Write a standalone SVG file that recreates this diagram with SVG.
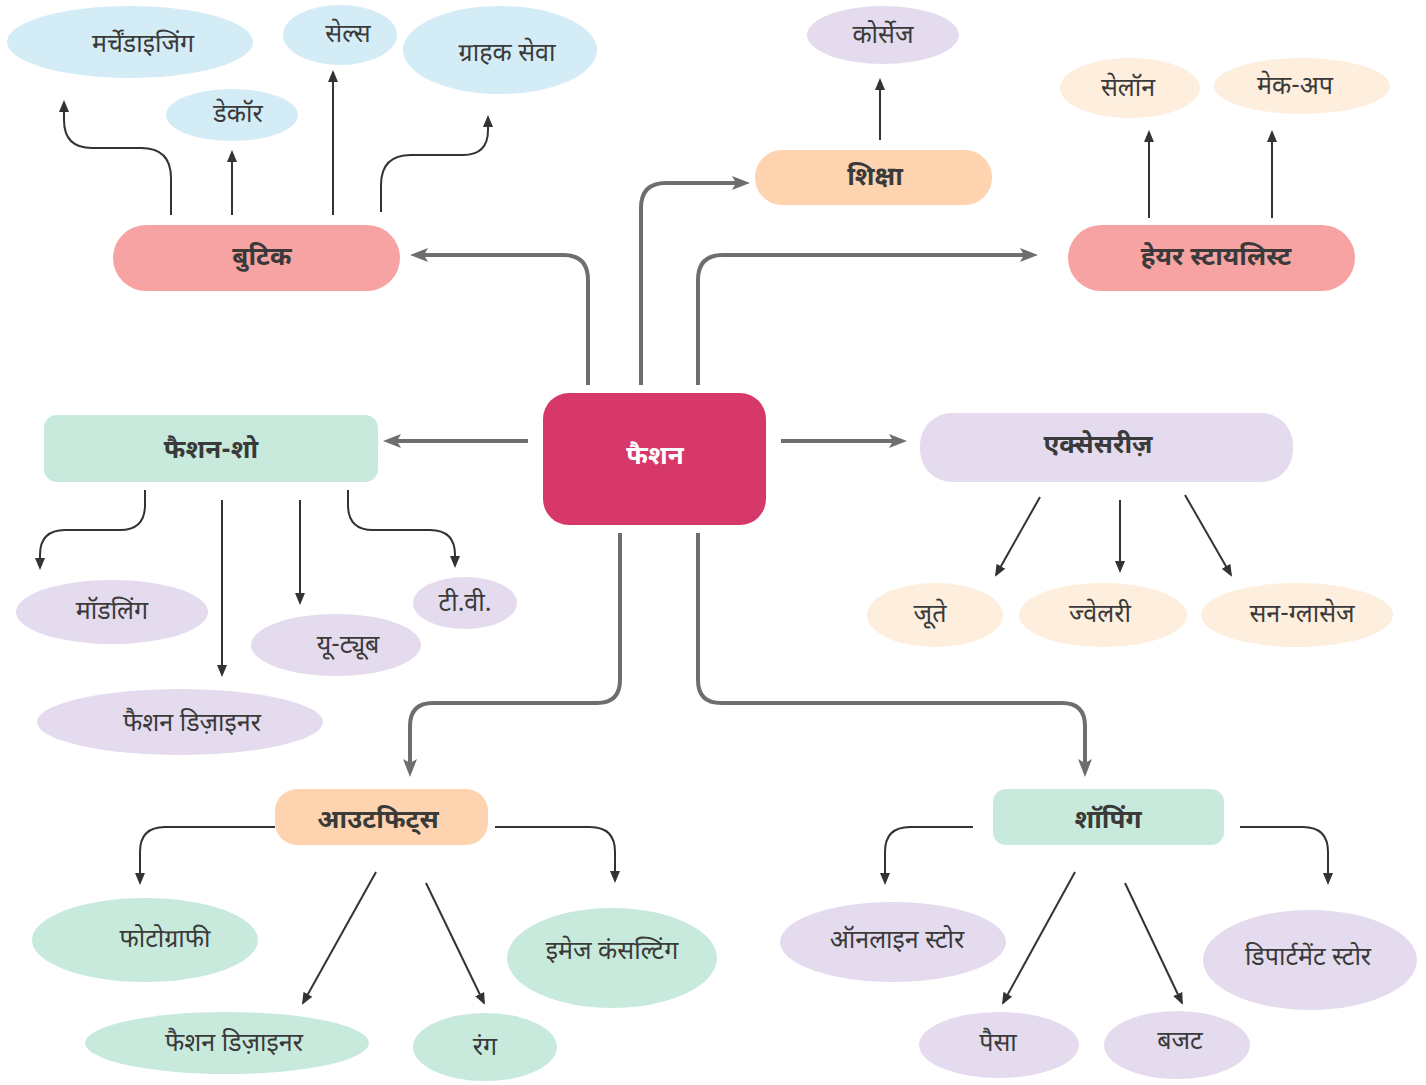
<svg xmlns="http://www.w3.org/2000/svg" width="1426" height="1085" viewBox="0 0 1426 1085">
<defs>
<style>
text{font-family:"Noto Sans Devanagari","Noto Sans","DejaVu Sans",sans-serif;fill:#3a3a3a;text-anchor:middle;dominant-baseline:central}
.lf{font-size:25px}
.nd{font-size:26px;font-weight:bold}
.main{fill:none;stroke:#6e6e6e;stroke-width:4;marker-end:url(#ah)}
.thin{fill:none;stroke:#333;stroke-width:2;marker-end:url(#at)}
.blue{fill:#d3ecf6}.lav{fill:#e4dbee}.pch{fill:#fdeedd}.mint{fill:#c8eadc}
.salmon{fill:#f7a3a3}.peach{fill:#fdd3b0}
</style>
<marker id="ah" markerUnits="userSpaceOnUse" markerWidth="18" markerHeight="14" refX="13" refY="7" orient="auto"><path d="M0,0 L18,7 L0,14 L4,7 z" fill="#6e6e6e"/></marker>
<marker id="at" markerUnits="userSpaceOnUse" markerWidth="12" markerHeight="10" refX="10" refY="5" orient="auto"><path d="M0,0 L12,5 L0,10 z" fill="#333"/></marker>
</defs>
<rect width="1426" height="1085" fill="#fff"/>
<g id="connectors">
<path class="main" d="M588,385 V280 Q588,255 563,255 H415"/>
<path class="main" d="M641,385 V208 Q641,183 666,183 H745"/>
<path class="main" d="M698,385 V280 Q698,255 723,255 H1033"/>
<path class="main" d="M528,441 H388"/>
<path class="main" d="M781,441 H902"/>
<path class="main" d="M620,533 V680 Q620,703 597,703 H433 Q410,703 410,726 V772"/>
<path class="main" d="M698,533 V680 Q698,703 721,703 H1062 Q1085,703 1085,726 V772"/>
<path class="thin" d="M171,215 V178 Q171,148 141,148 H92 Q64,148 64,120 V102"/>
<path class="thin" d="M232,215 V152"/>
<path class="thin" d="M333,215 V72"/>
<path class="thin" d="M381,212 V185 Q381,155 411,155 H463 Q488,155 488,130 V117"/>
<path class="thin" d="M880,140 V80"/>
<path class="thin" d="M1149,218 V132"/>
<path class="thin" d="M1272,218 V132"/>
<path class="thin" d="M145,490 V505 Q145,530 120,530 H65 Q40,530 40,555 V568"/>
<path class="thin" d="M222,500 V675"/>
<path class="thin" d="M300,500 V603"/>
<path class="thin" d="M348,490 V505 Q348,530 373,530 H430 Q455,530 455,555 V566"/>
<path class="thin" d="M1040,497 L996,575"/>
<path class="thin" d="M1120,500 V571"/>
<path class="thin" d="M1185,495 L1231,575"/>
<path class="thin" d="M275,827 H165 Q140,827 140,852 V883"/>
<path class="thin" d="M495,827 H590 Q615,827 615,852 V881"/>
<path class="thin" d="M376,872 L303,1003"/>
<path class="thin" d="M426,883 L484,1003"/>
<path class="thin" d="M973,827 H910 Q885,827 885,852 V883"/>
<path class="thin" d="M1240,827 H1303 Q1328,827 1328,852 V883"/>
<path class="thin" d="M1075,872 L1003,1003"/>
<path class="thin" d="M1125,883 L1182,1003"/>
</g>
<g id="fashion"><rect x="543" y="393" width="223" height="132" rx="26" fill="#d6386a"/><text x="655" y="458" class="nd" style="fill:#fff">फैशन</text></g>
<g id="boutique"><rect x="113" y="225" width="287" height="66" rx="33" class="salmon"/><text x="262" y="259" class="nd">बुटिक</text></g>
<g id="shiksha"><rect x="755" y="150" width="237" height="55" rx="27" class="peach"/><text x="875" y="179" class="nd">शिक्षा</text></g>
<g id="hairstylist"><rect x="1068" y="225" width="287" height="66" rx="33" class="salmon"/><text x="1216" y="259" class="nd">हेयर स्टायलिस्ट</text></g>
<g id="fashionshow"><rect x="44" y="415" width="334" height="67" rx="13" class="mint"/><text x="211" y="452" class="nd">फैशन-शो</text></g>
<g id="accessories"><rect x="920" y="413" width="373" height="69" rx="32" class="lav"/><text x="1098" y="447" class="nd">एक्सेसरीज़</text></g>
<g id="outfits"><rect x="275" y="789" width="213" height="56" rx="22" class="peach"/><text x="378" y="822" class="nd">आउटफिट्स</text></g>
<g id="shopping"><rect x="993" y="789" width="231" height="56" rx="13" class="mint"/><text x="1108" y="822" class="nd">शॉपिंग</text></g>
<g id="merch"><ellipse cx="130" cy="42" rx="123" ry="36" class="blue"/><text x="143" y="46" class="lf">मर्चेंडाइजिंग</text></g>
<g id="decor"><ellipse cx="232" cy="115" rx="66" ry="26" class="blue"/><text x="238" y="116" class="lf">डेकॉर</text></g>
<g id="sales"><ellipse cx="340" cy="35" rx="57" ry="30" class="blue"/><text x="348" y="36" class="lf">सेल्स</text></g>
<g id="customer"><ellipse cx="500" cy="50" rx="97" ry="44" class="blue"/><text x="507" y="55" class="lf">ग्राहक सेवा</text></g>
<g id="corsage"><ellipse cx="883" cy="35" rx="76" ry="29" class="lav"/><text x="883" y="37" class="lf">कोर्सेज</text></g>
<g id="salon"><ellipse cx="1130" cy="88" rx="70" ry="30" class="pch"/><text x="1128" y="90" class="lf">सेलॉन</text></g>
<g id="makeup"><ellipse cx="1302" cy="86" rx="88" ry="28" class="pch"/><text x="1295" y="88" class="lf">मेक-अप</text></g>
<g id="modeling"><ellipse cx="112" cy="612" rx="96" ry="32" class="lav"/><text x="112" y="613" class="lf">मॉडलिंग</text></g>
<g id="designer1"><ellipse cx="180" cy="722" rx="143" ry="33" class="lav"/><text x="192" y="725" class="lf">फैशन डिज़ाइनर</text></g>
<g id="youtube"><ellipse cx="336" cy="645" rx="85" ry="31" class="lav"/><text x="348" y="647" class="lf">यू-ट्यूब</text></g>
<g id="tv"><ellipse cx="465" cy="603" rx="52" ry="26" class="lav"/><text x="465" y="605" class="lf">टी.वी.</text></g>
<g id="shoes"><ellipse cx="935" cy="615" rx="68" ry="32" class="pch"/><text x="930" y="616" class="lf">जूते</text></g>
<g id="jewellery"><ellipse cx="1103" cy="615" rx="84" ry="32" class="pch"/><text x="1100" y="616" class="lf">ज्वेलरी</text></g>
<g id="sunglasses"><ellipse cx="1297" cy="615" rx="96" ry="32" class="pch"/><text x="1302" y="616" class="lf">सन-ग्लासेज</text></g>
<g id="photography"><ellipse cx="145" cy="940" rx="113" ry="42" class="mint"/><text x="165" y="941" class="lf">फोटोग्राफी</text></g>
<g id="designer2"><ellipse cx="227" cy="1043" rx="142" ry="31" class="mint"/><text x="234" y="1045" class="lf">फैशन डिज़ाइनर</text></g>
<g id="color"><ellipse cx="485" cy="1047" rx="72" ry="34" class="mint"/><text x="485" y="1049" class="lf">रंग</text></g>
<g id="image"><ellipse cx="612" cy="958" rx="105" ry="50" class="mint"/><text x="612" y="953" class="lf">इमेज कंसल्टिंग</text></g>
<g id="online"><ellipse cx="893" cy="942" rx="113" ry="40" class="lav"/><text x="897" y="942" class="lf">ऑनलाइन स्टोर</text></g>
<g id="money"><ellipse cx="999" cy="1045" rx="80" ry="33" class="lav"/><text x="998" y="1045" class="lf">पैसा</text></g>
<g id="budget"><ellipse cx="1177" cy="1045" rx="73" ry="34" class="lav"/><text x="1180" y="1043" class="lf">बजट</text></g>
<g id="department"><ellipse cx="1310" cy="960" rx="107" ry="50" class="lav"/><text x="1308" y="959" class="lf">डिपार्टमेंट स्टोर</text></g>
</svg>
